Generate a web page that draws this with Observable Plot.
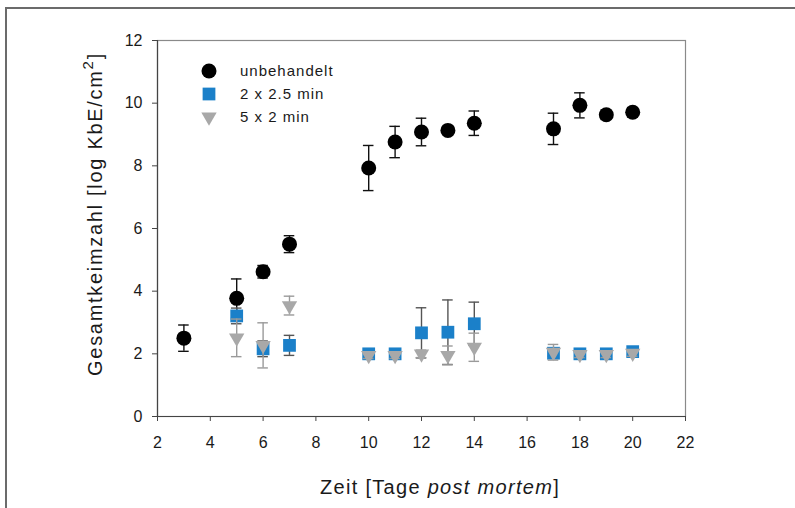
<!DOCTYPE html>
<html>
<head>
<meta charset="utf-8">
<script src="https://cdn.jsdelivr.net/npm/d3@7"></script>
<script src="https://cdn.jsdelivr.net/npm/@observablehq/plot@0.6"></script>
<style>
  html, body { margin: 0; padding: 0; background: #fff; overflow: hidden; }
  #wrap { position: relative; width: 795px; height: 508px; }
  #border { position: absolute; left: 5px; top: 7px; right: -20px; bottom: -20px;
            border-left: 2px solid #6b6b6b; border-top: 2px solid #6b6b6b; pointer-events: none; }
  #chart { position: absolute; left: 0; top: 0; }
</style>
</head>
<body>
<div id="wrap"><div id="chart"></div><div id="border"></div></div>
<script>
// ---- data ----
const xTicks = [2, 4, 6, 8, 10, 12, 14, 16, 18, 20, 22];
const yTicks = [0, 2, 4, 6, 8, 10, 12];
const seriesNames = ["unbehandelt", "2 x 2.5 min", "5 x 2 min"];

const daysUnbehandelt = [3, 5, 6, 7, 10, 11, 12, 13, 14, 17, 18, 19, 20];
const valsUnbehandelt = [2.50, 3.77, 4.62, 5.50, 7.93, 8.76, 9.08, 9.13, 9.36, 9.18, 9.93, 9.63, 9.71];
const errUnbehandelt  = [0.42, 0.62, 0.20, 0.27, 0.72, 0.50, 0.44, 0.10, 0.39, 0.50, 0.40, 0.15, 0.15];

const days2x25 = [5, 6, 7, 10, 11, 12, 13, 14, 17, 18, 19, 20];
const vals2x25 = [3.21, 2.16, 2.27, 2.00, 2.00, 2.67, 2.69, 2.96, 2.02, 2.00, 2.00, 2.07];
const err2x25  = [0.25, 0.25, 0.32, 0.10, 0.10, 0.80, 1.03, 0.69, 0.10, 0.10, 0.10, 0.10];

const days5x2 = [5, 6, 7, 10, 11, 12, 13, 14, 17, 18, 19, 20];
const vals5x2 = [2.51, 2.27, 3.54, 1.95, 1.95, 2.00, 1.95, 2.21, 2.05, 1.98, 1.98, 2.02];
const err5x2  = [0.60, 0.72, 0.30, 0.10, 0.10, 0.12, 0.30, 0.45, 0.25, 0.10, 0.10, 0.10];

const toRows = (days, vals, errs) => days.map((d, i) => ({day: d, v: vals[i], e: errs[i]}));
const dUnb = toRows(daysUnbehandelt, valsUnbehandelt, errUnbehandelt);
const d25 = toRows(days2x25, vals2x25, err2x25);
const d52 = toRows(days5x2, vals5x2, err5x2);

const colBlack = "#000000", colBlue = "#1b80c9", colGray = "#a8a8a8";
const errBlack = "#111111", errBlue = "#555555", errGray = "#9a9a9a";
const capHalf = 0.2;

function errorMarks(data, stroke) {
  return [
    Plot.ruleX(data, {x: "day", y1: d => d.v - d.e, y2: d => d.v + d.e, stroke, strokeWidth: 1.4}),
    Plot.ruleY(data, {y: d => d.v + d.e, x1: d => d.day - capHalf, x2: d => d.day + capHalf, stroke, strokeWidth: 1.4}),
    Plot.ruleY(data, {y: d => d.v - d.e, x1: d => d.day - capHalf, x2: d => d.day + capHalf, stroke, strokeWidth: 1.4})
  ];
}

const rCircle = 7.5, rSquare = 7.2, rTri = 5.7;

const chart = Plot.plot({
  width: 795,
  height: 508,
  marginLeft: 157,
  marginRight: 110,
  marginTop: 40,
  marginBottom: 92,
  style: {fontFamily: "'Liberation Sans', Arial, sans-serif", fontSize: "16px", color: "#1a1a1a", background: "transparent"},
  x: {domain: [2, 22]},
  y: {domain: [0, 12]},
  marks: [
    Plot.frame({stroke: "#8a8a8a", strokeWidth: 1.2}),
    Plot.axisX({ticks: xTicks, tickSize: 5, tickPadding: 15, label: null, stroke: "#444", fontSize: 16, letterSpacing: "0.6px"}),
    Plot.axisY({ticks: yTicks, tickSize: 5, tickPadding: 10, label: null, stroke: "#444", fontSize: 16, letterSpacing: "0.6px"}),
    Plot.ruleY([0], {stroke: "#444", strokeWidth: 1.2}),
    Plot.ruleX([2], {stroke: "#444", strokeWidth: 1.2}),
    ...errorMarks(dUnb, errBlack),
    Plot.dot(dUnb, {x: "day", y: "v", r: rCircle, fill: colBlack, symbol: "circle"}),
    ...errorMarks(d25, errBlue),
    Plot.dot(d25, {x: "day", y: "v", r: rSquare, fill: colBlue, symbol: "square"}),
    ...errorMarks(d52, errGray),
    Plot.dot(d52, {x: "day", y: "v", r: rTri, fill: colGray, symbol: "triangle", rotate: 180})
  ]
});

document.getElementById("chart").appendChild(chart);

// axis titles and legend
const svg = d3.select(chart);
const fontFam = "'Liberation Sans', Arial, sans-serif";

const yt = svg.append("text")
  .attr("transform", "translate(102,214) rotate(-90)")
  .attr("text-anchor", "middle")
  .attr("font-family", fontFam)
  .attr("font-size", 20)
  .attr("letter-spacing", "1.7px")
  .attr("fill", "#1a1a1a");
yt.append("tspan").text("Gesamtkeimzahl [log KbE/cm");
yt.append("tspan").attr("dy", -9).attr("font-size", 15).text("2");
yt.append("tspan").attr("dy", 9).text("]");

const xt = svg.append("text")
  .attr("x", 440).attr("y", 494)
  .attr("text-anchor", "middle")
  .attr("font-family", fontFam)
  .attr("font-size", 20)
  .attr("letter-spacing", "1.3px")
  .attr("fill", "#1a1a1a");
xt.append("tspan").text("Zeit [Tage ");
xt.append("tspan").attr("font-style", "italic").text("post mortem");
xt.append("tspan").text("]");

const legendItems = [
  {name: seriesNames[0], type: d3.symbolCircle, r: rCircle, fill: colBlack, rot: 0},
  {name: seriesNames[1], type: d3.symbolSquare, r: rSquare, fill: colBlue, rot: 0},
  {name: seriesNames[2], type: d3.symbolTriangle, r: rTri, fill: colGray, rot: 180}
];
const lg = svg.append("g");
legendItems.forEach((it, i) => {
  const cy = 71 + i * 23;
  lg.append("path")
    .attr("d", d3.symbol(it.type, it.r * it.r * Math.PI)())
    .attr("transform", `translate(209,${cy}) rotate(${it.rot})`)
    .attr("fill", it.fill);
  lg.append("text")
    .attr("x", 240).attr("y", cy + 5)
    .attr("text-anchor", "start")
    .attr("font-family", fontFam)
    .attr("font-size", 15)
    .attr("letter-spacing", "1px")
    .attr("fill", "#1a1a1a")
    .text(it.name);
});
</script>
</body>
</html>
